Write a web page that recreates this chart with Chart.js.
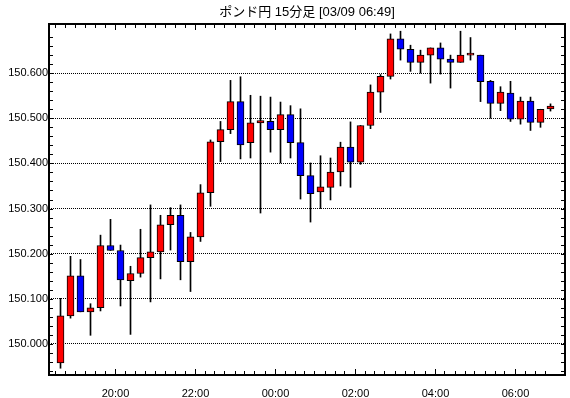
<!DOCTYPE html>
<html>
<head>
<meta charset="utf-8">
<script src="https://cdn.jsdelivr.net/npm/chart.js@4/dist/chart.umd.min.js"></script>
<style>
  html, body { margin: 0; padding: 0; background: #fff; }
  #wrap { width: 570px; height: 398px; }
</style>
</head>
<body>
<div id="wrap"><canvas id="myChart" width="570" height="398"></canvas></div>
<script>
// ポンド円 15分足
var times = ["18:30","18:45","19:00","19:15","19:30","19:45","20:00","20:15","20:30","20:45",
  "21:00","21:15","21:30","21:45","22:00","22:15","22:30","22:45","23:00","23:15",
  "23:30","23:45","00:00","00:15","00:30","00:45","01:00","01:15","01:30","01:45",
  "02:00","02:15","02:30","02:45","03:00","03:15","03:30","03:45","04:00","04:15",
  "04:30","04:45","05:00","05:15","05:30","05:45","06:00","06:15","06:30","06:45"];

var opens = [149.958,150.062,150.151,150.071,150.080,150.218,150.207,150.140,150.156,150.191,
  150.204,150.264,150.285,150.182,150.237,150.335,150.448,150.475,150.537,150.446,
  150.490,150.493,150.475,150.508,150.446,150.373,150.337,150.347,150.381,150.436,
  150.403,150.484,150.558,150.593,150.676,150.653,150.624,150.640,150.656,150.631,
  150.624,150.640,150.640,150.582,150.533,150.556,150.498,150.538,150.491,150.521];
var highs = [150.101,150.194,150.187,150.089,150.241,150.276,150.219,150.172,150.254,150.308,
  150.285,150.302,150.308,150.247,150.353,150.452,150.493,150.584,150.592,150.551,
  150.549,150.547,150.536,150.528,150.521,150.401,150.417,150.412,150.447,150.492,
  150.484,150.574,150.597,150.687,150.693,150.662,150.651,150.656,150.667,150.640,
  150.693,150.679,150.640,150.584,150.570,150.582,150.547,150.547,150.520,150.532];
var lows = [149.946,150.057,150.071,150.019,150.073,150.207,150.084,150.021,150.148,150.093,
  150.144,150.208,150.142,150.116,150.227,150.305,150.404,150.466,150.410,150.412,
  150.290,150.425,150.401,150.412,150.321,150.270,150.300,150.319,150.350,150.347,
  150.398,150.477,150.513,150.587,150.629,150.604,150.600,150.578,150.598,150.567,
  150.624,150.629,150.537,150.500,150.517,150.493,150.487,150.473,150.480,150.516];
var closes = [150.062,150.151,150.071,150.080,150.218,150.207,150.142,150.156,150.191,150.204,
  150.264,150.285,150.182,150.237,150.335,150.448,150.475,150.537,150.441,150.490,
  150.495,150.475,150.508,150.446,150.373,150.333,150.348,150.381,150.436,150.403,
  150.484,150.558,150.593,150.676,150.653,150.624,150.640,150.656,150.631,150.624,
  150.640,150.640,150.581,150.533,150.558,150.498,150.538,150.491,150.520,150.527];

var xTickLabels = ["20:00","22:00","00:00","02:00","04:00","06:00"];
var yLabelValues = [150.000,150.100,150.200,150.300,150.400,150.500,150.600];

var bodies = [], wicks = [], colors = [];
for (var i = 0; i < times.length; i++) {
  bodies.push({ x: i, y: [opens[i], closes[i]] });
  wicks.push({ x: i, y: [lows[i], highs[i]] });
  colors.push(closes[i] >= opens[i] ? "#ff0000" : "#0000ff");
}

function isMajor(v) {
  var m = Math.round(v * 1000);
  return yLabelValues.some(function (y) { return Math.round(y * 1000) === m; });
}

// 枠と内向きの目盛り
var framePlugin = {
  id: "frame",
  afterDatasetsDraw: function (chart) {
    var ctx = chart.ctx, a = chart.chartArea;
    var xs = chart.scales.x, ys = chart.scales.y;
    ctx.save();
    ctx.strokeStyle = "#000";
    ctx.lineWidth = 1;
    ctx.beginPath();
    ys.ticks.forEach(function (t) {
      var py = Math.round(ys.getPixelForValue(t.value)) + 0.5;
      ctx.moveTo(a.left, py); ctx.lineTo(a.left + 4, py);
      ctx.moveTo(a.right - 4, py); ctx.lineTo(a.right, py);
    });
    xs.ticks.forEach(function (t) {
      var px = Math.round(xs.getPixelForValue(t.value)) - 0.5;
      var len = xTickLabels.indexOf(times[t.value + 0.5]) >= 0 ? 6 : 4;
      ctx.moveTo(px, a.bottom); ctx.lineTo(px, a.bottom - len);
      ctx.moveTo(px, a.top); ctx.lineTo(px, a.top + len);
    });
    ctx.stroke();
    ctx.lineWidth = 2;
    ctx.strokeRect(a.left, a.top, a.right - a.left, a.bottom - a.top);
    ctx.restore();
  }
};

var ctx = document.getElementById("myChart");
var myChart = new Chart(ctx, {
  type: "bar",
  data: {
    datasets: [
      {
        data: bodies,
        backgroundColor: colors,
        borderColor: "#000",
        borderWidth: 1,
        borderSkipped: false,
        barThickness: 7,
        minBarLength: 2,
        grouped: false,
        order: 0
      },
      {
        data: wicks,
        backgroundColor: "#000",
        borderWidth: 0,
        barThickness: 1,
        grouped: false,
        order: 1
      }
    ]
  },
  options: {
    responsive: false,
    animation: false,
    layout: { padding: { left: 0, right: 5, top: 0, bottom: 0 } },
    plugins: {
      legend: { display: false },
      tooltip: { enabled: false },
      title: {
        display: true,
        text: "ポンド円 15分足 [03/09 06:49]",
        fullSize: false,
        color: "#000",
        font: { family: "'Liberation Sans', 'Noto Sans CJK JP', sans-serif", size: 13, weight: "normal", lineHeight: 1.2 },
        padding: { top: 5, bottom: 3.4 }
      }
    },
    scales: {
      x: {
        type: "linear",
        offset: false,
        min: -1.15,
        max: 50.45,
        afterBuildTicks: function (scale) {
          var t = [];
          for (var i = 0; i < times.length; i++) t.push({ value: i - 0.5 });
          scale.ticks = t;
        },
        afterFit: function (scale) { scale.height = 23; },
        grid: { display: false },
        border: { display: false },
        ticks: {
          autoSkip: false,
          maxRotation: 0,
          minRotation: 0,
          padding: 4,
          color: "#000",
          font: { family: "'Liberation Sans', sans-serif", size: 11 },
          callback: function (v) {
            var lbl = times[v + 0.5];
            return xTickLabels.indexOf(lbl) >= 0 ? lbl : "";
          }
        }
      },
      y: {
        min: 149.931,
        max: 150.709,
        afterBuildTicks: function (scale) {
          var t = [];
          for (var k = 0; k < 38; k++) t.push({ value: (149940 + 20 * k) / 1000 });
          scale.ticks = t;
        },
        afterFit: function (scale) { scale.width = 49; },
        grid: {
          drawTicks: false,
          lineWidth: 1,
          color: function (c) {
            return c.tick && isMajor(c.tick.value) ? "#000" : "rgba(0,0,0,0)";
          }
        },
        border: { display: false, dash: [1, 1] },
        ticks: {
          autoSkip: false,
          padding: 1,
          color: "#000",
          font: { family: "'Liberation Sans', sans-serif", size: 11 },
          callback: function (v) {
            return isMajor(v) ? Number(v).toFixed(3) : "";
          }
        }
      }
    }
  },
  plugins: [framePlugin]
});
</script>
</body>
</html>
